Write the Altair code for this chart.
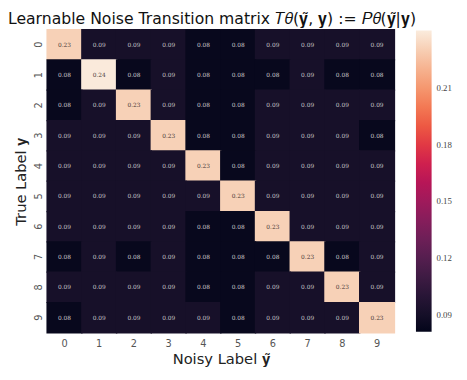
import altair as alt
import pandas as pd
import numpy as np

# Labels
true_labels = list(range(10))
noisy_labels = list(range(10))

# Estimated cell values (rows = true label, cols = noisy label)
row_0 = [0.231, 0.091, 0.091, 0.091, 0.083, 0.083, 0.091, 0.091, 0.091, 0.091]
row_1 = [0.083, 0.240, 0.083, 0.091, 0.083, 0.083, 0.083, 0.091, 0.083, 0.083]
row_2 = [0.083, 0.091, 0.231, 0.091, 0.083, 0.083, 0.091, 0.091, 0.091, 0.091]
row_3 = [0.091, 0.091, 0.091, 0.231, 0.083, 0.083, 0.091, 0.091, 0.091, 0.083]
row_4 = [0.091, 0.091, 0.091, 0.091, 0.231, 0.083, 0.091, 0.091, 0.091, 0.091]
row_5 = [0.091, 0.091, 0.091, 0.091, 0.091, 0.231, 0.091, 0.091, 0.091, 0.091]
row_6 = [0.091, 0.091, 0.091, 0.091, 0.083, 0.083, 0.231, 0.091, 0.091, 0.091]
row_7 = [0.083, 0.091, 0.083, 0.091, 0.083, 0.083, 0.083, 0.231, 0.083, 0.091]
row_8 = [0.091, 0.091, 0.091, 0.091, 0.083, 0.083, 0.091, 0.091, 0.231, 0.091]
row_9 = [0.083, 0.091, 0.091, 0.091, 0.091, 0.083, 0.091, 0.091, 0.091, 0.231]
rows = [row_0, row_1, row_2, row_3, row_4, row_5, row_6, row_7, row_8, row_9]

colorbar_ticks = [0.09, 0.12, 0.15, 0.18, 0.21]
color_min, color_max = 0.081, 0.2404

rocket = ["#03051A", "#221331", "#451C47", "#6A1F56", "#921C5B", "#B91657",
          "#DD2C45", "#F06043", "#F5936A", "#F6BE9F", "#FAEBDD"]
stops = list(np.linspace(color_min, color_max, len(rocket)))

records = []
for t, row in zip(true_labels, rows):
    for n, v in zip(noisy_labels, row):
        records.append({"true": str(t), "noisy": str(n), "value": v})
df = pd.DataFrame(records)

order = [str(i) for i in range(10)]

color_scale = alt.Scale(domain=stops, range=rocket, clamp=True)

base = alt.Chart(df).encode(
    x=alt.X("noisy:O", sort=order,
            axis=alt.Axis(title="Noisy Label 𝐲̃", labelAngle=0, labelPadding=6,
                          titlePadding=3)),
    y=alt.Y("true:O", sort=order,
            axis=alt.Axis(title="True Label 𝐲", labelAngle=270, labelPadding=9,
                          labelBaseline="middle", labelAlign="center", titlePadding=5)),
)

heat = base.mark_rect(
    width=alt.RelativeBandSize(band=1.04),
    height=alt.RelativeBandSize(band=1.04),
).encode(
    color=alt.Color("value:Q", scale=color_scale,
                    legend=alt.Legend(orient="none", legendX=377, legendY=1,
                                      direction="vertical",
                                      gradientLength=308, gradientThickness=16,
                                      gradientStrokeWidth=0, title=None,
                                      values=colorbar_ticks, format=".2f",
                                      labelFont="Liberation Serif", labelFontSize=9,
                                      labelColor="#444444", labelOffset=5)),
)

text = base.mark_text(font="DejaVu Serif", fontSize=6).encode(
    text=alt.Text("value:Q", format=".2f"),
    color=alt.condition(alt.datum.value > 0.15, alt.value("#4a3a38"), alt.value("#c6c4c8")),
)

chart = (heat + text).properties(
    width=355, height=310,
    padding={"left": 40, "top": 18, "right": 66, "bottom": 36},
    autosize="none",
    title=alt.Title("Learnable Noise Transition matrix 𝑇𝜃(𝐲̃, 𝐲) := 𝑃𝜃(𝐲̃|𝐲)",
                    fontSize=16, font="DejaVu Sans", fontWeight="normal",
                    color="#111111", offset=2, anchor="middle", dx=-9),
).configure_view(stroke=None).configure_axis(
    domain=False, ticks=False, grid=False,
    labelFont="DejaVu Sans", labelFontSize=10, labelColor="#555555",
    titleFont="DejaVu Sans", titleFontSize=15, titleFontWeight="normal", titleColor="#222222",
)

chart.save("out.html", embed_options={"renderer": "svg", "actions": False})
